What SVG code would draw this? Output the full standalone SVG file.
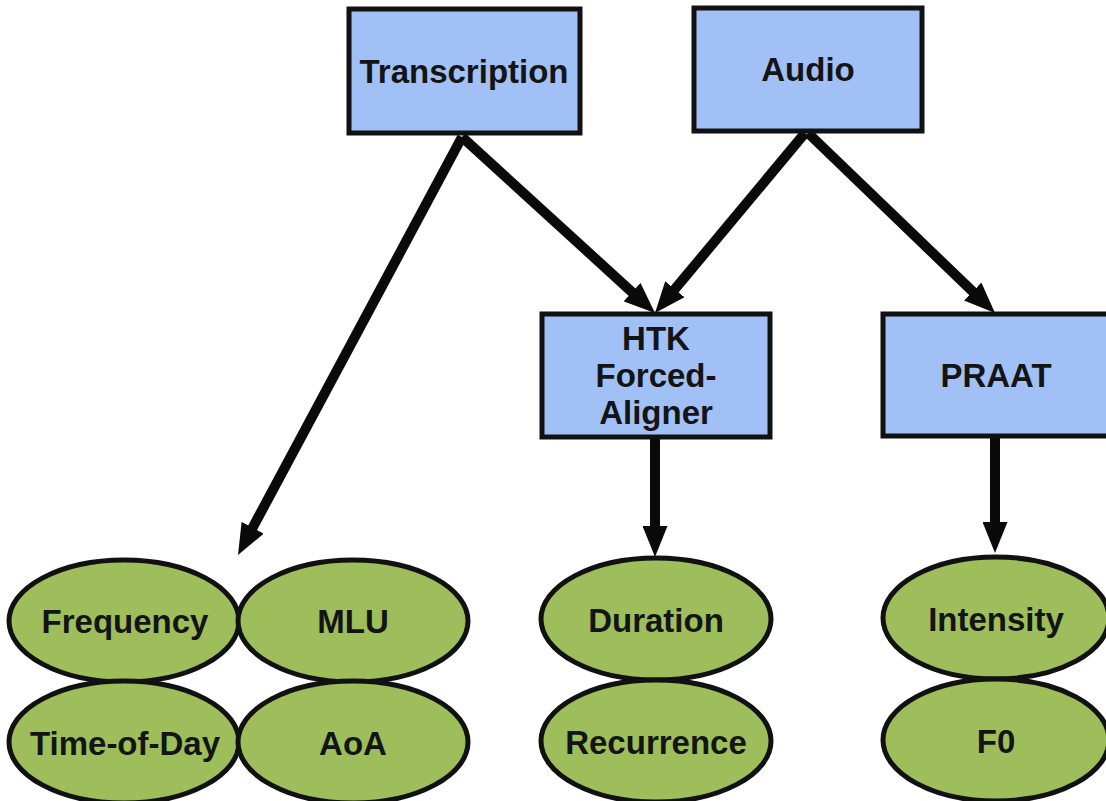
<svg xmlns="http://www.w3.org/2000/svg" width="1106" height="801" viewBox="0 0 1106 801">
  <style>
    .box { fill: #a1c0f5; stroke: #111; stroke-width: 5; }
    .oval { fill: #9dbe5b; stroke: #111; stroke-width: 5; }
    .lbl { font-family: "Liberation Sans", Arial, sans-serif; font-weight: bold; font-size: 33px; fill: #141414; text-anchor: middle; }
    .edge { stroke: #0a0a0a; stroke-width: 10; fill: none; marker-end: url(#head); }
  </style>
  <defs>
    <!-- filled triangular arrowhead, fixed size in user units -->
    <marker id="head" markerUnits="userSpaceOnUse" markerWidth="31" markerHeight="25" viewBox="0 0 31 25" refX="6" refY="12.5" orient="auto">
      <path d="M0,0 L31,12.5 L0,25 z" fill="#0a0a0a"/>
    </marker>
  </defs>
  <rect width="1106" height="801" fill="#fff"/>

  <g id="connectors">
    <line class="edge" x1="462" y1="137" x2="249.8" y2="533"/>
    <line class="edge" x1="462" y1="137" x2="636.5" y2="296.2"/>
    <line class="edge" x1="805" y1="133" x2="671" y2="293.8"/>
    <line class="edge" x1="808" y1="133" x2="977" y2="295.7"/>
    <line class="edge" x1="655" y1="437" x2="655" y2="532"/>
    <line class="edge" x1="995" y1="437" x2="995" y2="528"/>
  </g>

  <g id="transcription">
    <rect class="box" x="349" y="9" width="231" height="124"/>
    <text class="lbl" x="464" y="83">Transcription</text>
  </g>
  <g id="audio">
    <rect class="box" x="694" y="8" width="228" height="123"/>
    <text class="lbl" x="808" y="81">Audio</text>
  </g>
  <g id="htk">
    <rect class="box" x="542" y="314" width="228" height="123"/>
    <text class="lbl" x="656" y="350">HTK</text>
    <text class="lbl" x="656" y="387">Forced-</text>
    <text class="lbl" x="656" y="424">Aligner</text>
  </g>
  <g id="praat">
    <rect class="box" x="883" y="314" width="228" height="122"/>
    <text class="lbl" x="996" y="387">PRAAT</text>
  </g>

  <g id="frequency">
    <ellipse class="oval" cx="124" cy="621" rx="115" ry="61"/>
    <text class="lbl" x="125" y="633">Frequency</text>
  </g>
  <g id="mlu">
    <ellipse class="oval" cx="353" cy="621" rx="115" ry="61"/>
    <text class="lbl" x="353" y="633">MLU</text>
  </g>
  <g id="time-of-day">
    <ellipse class="oval" cx="124" cy="742" rx="115" ry="61"/>
    <text class="lbl" x="125" y="755">Time-of-Day</text>
  </g>
  <g id="aoa">
    <ellipse class="oval" cx="353" cy="742" rx="115" ry="61"/>
    <text class="lbl" x="353" y="755">AoA</text>
  </g>
  <g id="duration">
    <ellipse class="oval" cx="656" cy="619" rx="115" ry="61"/>
    <text class="lbl" x="656" y="632">Duration</text>
  </g>
  <g id="recurrence">
    <ellipse class="oval" cx="656" cy="741" rx="115" ry="61"/>
    <text class="lbl" x="656" y="754">Recurrence</text>
  </g>
  <g id="intensity">
    <ellipse class="oval" cx="996" cy="618" rx="113" ry="61"/>
    <text class="lbl" x="996" y="631">Intensity</text>
  </g>
  <g id="f0">
    <ellipse class="oval" cx="996" cy="740" rx="113" ry="61"/>
    <text class="lbl" x="996" y="753">F0</text>
  </g>
</svg>
